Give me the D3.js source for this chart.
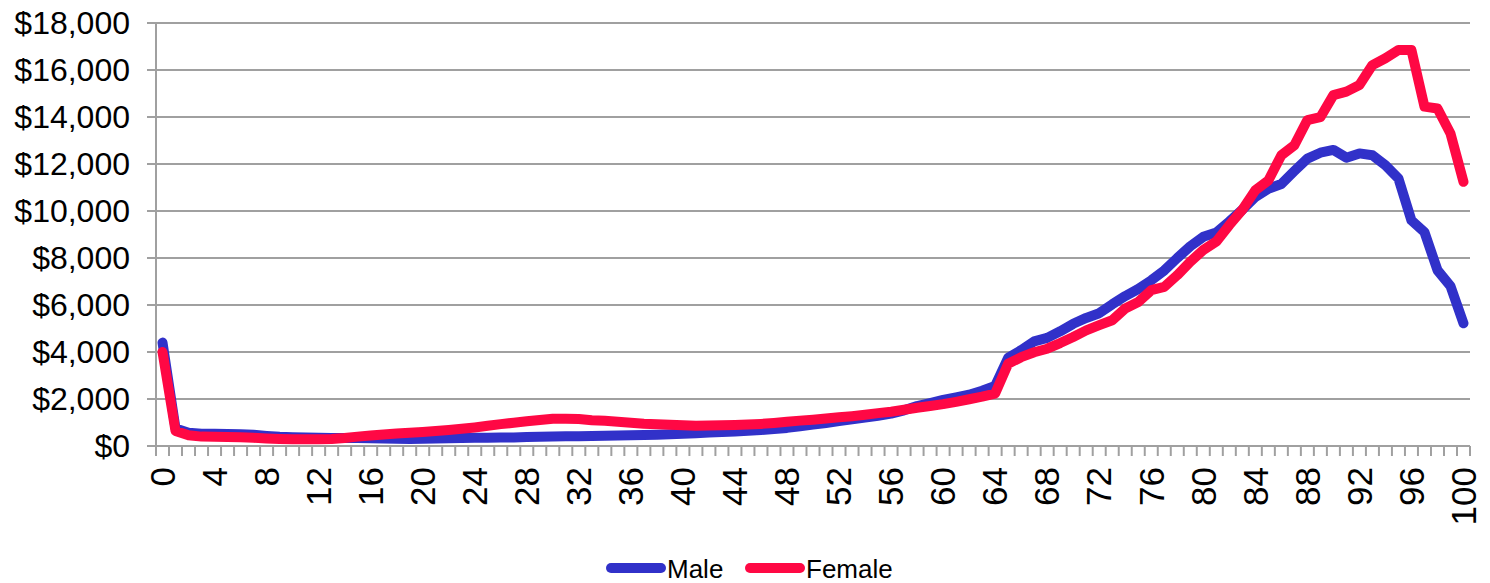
<!DOCTYPE html>
<html><head><meta charset="utf-8">
<script src="https://cdn.jsdelivr.net/npm/d3@7"></script>
<style>body{margin:0;background:#fff}svg{display:block;font-family:"Liberation Sans",Arial,sans-serif}</style>
</head><body>
<svg id="c" width="1490" height="583"></svg>
<script>
const ages = d3.range(0, 101);
const male = [4400,750,560,520,520,510,500,480,430,390,370,360,350,340,340,340,330,320,310,300,
310,320,330,340,350,350,360,360,380,390,400,410,420,430,440,450,460,470,480,500,
520,540,570,600,620,650,680,720,770,840,910,980,1060,1140,1210,1290,1380,1520,1700,1830,
1960,2070,2180,2350,2560,3750,4080,4450,4600,4880,5200,5450,5650,6030,6380,6680,7050,7470,8000,8500,
8900,9080,9550,10050,10600,10950,11150,11700,12230,12480,12600,12270,12450,12370,11950,11380,9600,9100,7480,6800,5220];
const female = [4000,640,460,400,390,380,370,350,320,300,290,290,290,300,340,400,450,490,530,560,
600,640,680,730,790,860,930,990,1050,1110,1160,1160,1150,1100,1070,1030,990,950,930,900,
880,860,870,880,890,910,940,980,1030,1080,1120,1170,1220,1270,1330,1400,1460,1540,1630,1700,
1780,1880,1990,2100,2230,3500,3780,3990,4140,4380,4640,4920,5140,5350,5850,6130,6630,6770,7270,7840,
8340,8700,9400,10050,10880,11300,12370,12800,13870,13990,14930,15080,15360,16210,16500,16850,16850,14440,14360,13300,11240];
const yTicks = [0,2000,4000,6000,8000,10000,12000,14000,16000,18000];
const xTickLabels = [0,4,8,12,16,20,24,28,32,36,40,44,48,52,56,60,64,68,72,76,80,84,88,92,96,100];
const seriesNames = ["Male","Female"];
const seriesColors = ["#3131C9","#FF0844"];

const svg = d3.select("#c");
const L = 156, R = 1470, T = 23, B = 446;
const x = d3.scaleBand().domain(ages).range([L, R]).padding(0);
const y = d3.scaleLinear().domain([0, 18000]).range([B, T]);
const cx = a => x(a) + x.bandwidth() / 2;
const grid = "#A0A0A0";

// gridlines
svg.append("g").selectAll("line").data(yTicks).join("line")
  .attr("x1", L).attr("x2", R).attr("y1", d => y(d)).attr("y2", d => y(d))
  .attr("stroke", grid).attr("stroke-width", 2);

// y axis
const ya = svg.append("g");
ya.append("line").attr("x1", L).attr("x2", L).attr("y1", T).attr("y2", B).attr("stroke", grid).attr("stroke-width", 2);
ya.selectAll("line.t").data(yTicks).join("line").attr("class","t")
  .attr("x1", L - 9).attr("x2", L).attr("y1", d => y(d)).attr("y2", d => y(d))
  .attr("stroke", grid).attr("stroke-width", 2);
ya.selectAll("text").data(yTicks).join("text")
  .attr("x", 130).attr("y", d => y(d)).attr("dy", "0.35em")
  .attr("text-anchor", "end").attr("font-size", 32).attr("fill", "#000")
  .text(d => "$" + d3.format(",")(d));

// x axis
const xa = svg.append("g");
xa.append("line").attr("x1", L).attr("x2", R).attr("y1", B).attr("y2", B).attr("stroke", grid).attr("stroke-width", 2);
const bounds = ages.map(a => x(a)).concat([R]);
xa.selectAll("line.t").data(bounds).join("line").attr("class","t")
  .attr("x1", d => d).attr("x2", d => d).attr("y1", B).attr("y2", B + 10)
  .attr("stroke", grid).attr("stroke-width", 2);
xa.selectAll("text").data(xTickLabels).join("text")
  .attr("transform", d => `translate(${cx(d)},467) rotate(-90)`)
  .attr("dy", "0.35em").attr("text-anchor", "end")
  .attr("font-size", 35).attr("fill", "#000")
  .text(d => d);

// lines
const line = d3.line().x((d, i) => cx(ages[i])).y(d => y(d));
[male, female].forEach((s, k) => {
  svg.append("path").datum(s).attr("d", line)
    .attr("fill", "none").attr("stroke", seriesColors[k]).attr("stroke-width", 10)
    .attr("stroke-linejoin", "round").attr("stroke-linecap", "round");
});

// legend
const lg = svg.append("g");
const legX = [611, 750];
seriesNames.forEach((n, k) => {
  lg.append("line").attr("x1", legX[k]).attr("x2", legX[k] + 50).attr("y1", 568).attr("y2", 568)
    .attr("stroke", seriesColors[k]).attr("stroke-width", 10).attr("stroke-linecap", "round");
  lg.append("text").attr("x", legX[k] + 56).attr("y", 578).attr("font-size", 26).attr("fill", "#000").text(n);
});
</script>
</body></html>
